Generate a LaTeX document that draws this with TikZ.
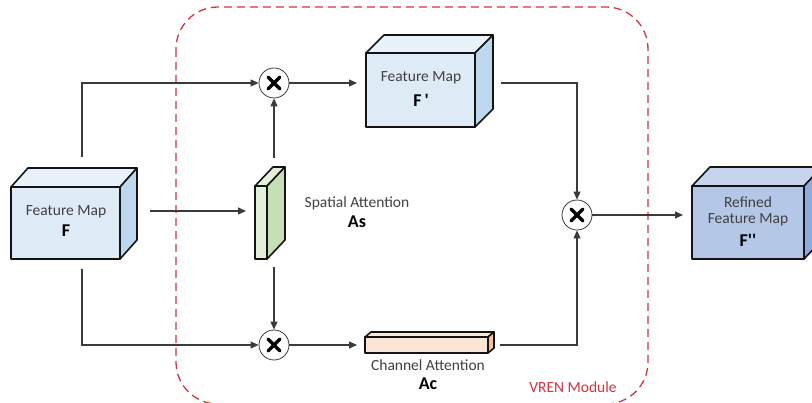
\documentclass[tikz,border=0pt]{standalone}
\usepackage{fontspec}
\setmainfont{Carlito}
\newfontfamily\labfont{Carlito}
\usetikzlibrary{arrows.meta,calc}
\definecolor{linegray}{HTML}{3A3A3A}
\definecolor{textgray}{HTML}{404040}
\definecolor{vrenred}{HTML}{D9303C}
\definecolor{bluefront}{HTML}{DEEBF7}
\definecolor{blueside}{HTML}{BDD7EE}
\definecolor{bluetop}{HTML}{E9F2FB}
\definecolor{dbluefront}{HTML}{B4C7E7}
\definecolor{dblueside}{HTML}{8FAADC}
\definecolor{dbluetop}{HTML}{C6D4EE}
\definecolor{greenfront}{HTML}{E2F0D9}
\definecolor{greenside}{HTML}{C5E0B4}
\definecolor{peachfront}{HTML}{FBE5D6}
\definecolor{peachside}{HTML}{F4C2A0}
\newcommand\cubefaces[5]{%
  \draw[face, fill=#4] (#1.north west) -- ++(#2,#3) -- ($(#1.north east)+(#2,#3)$) -- (#1.north east) -- cycle;
  \draw[face, fill=#5] (#1.north east) -- ++(#2,#3) -- ($(#1.south east)+(#2,#3)$) -- (#1.south east) -- cycle;
}
\newcommand\timesmark[1]{%
  \draw[line width=3.4pt, line cap=round, black] ($(#1)+(-6,-6)$) -- ($(#1)+(6,6)$);
  \draw[line width=3.4pt, line cap=round, black] ($(#1)+(-6,6)$) -- ($(#1)+(6,-6)$);
}
\begin{document}
\begin{tikzpicture}[x=1pt,y=-1pt,
  conn/.style={draw=linegray, line width=1.1pt, -{Triangle[length=8pt,width=7pt]}},
  face/.style={draw=black!92, line width=1.6pt, line join=round, outer sep=0pt, inner sep=0pt},
  txt/.style={font=\labfont\fontsize{15.5}{18}\selectfont, text=textgray, inner sep=0pt},
  boldtxt/.style={font=\labfont\bfseries\fontsize{18}{20}\selectfont, text=black, inner sep=0pt},
  mult/.style={circle, draw=linegray, line width=0.8pt, minimum size=30pt, inner sep=0pt, fill=white},
  vren/.style={draw=vrenred, line width=1.3pt, dash pattern=on 8pt off 5pt, rounded corners=42pt}
]
\clip (0,0) rectangle (812,403);
\useasboundingbox (0,0) rectangle (812,403);

% VREN module frame
\draw[vren] (176,7) rectangle (648,404);
\node[txt, text=vrenred] (vrenlab) at (573,387) {VREN Module};

% Feature map F
\node[face, fill=bluefront, minimum width=109pt, minimum height=72pt] (F) at (65.5,223) {};
\cubefaces{F}{17}{-19}{bluetop}{blueside}
\node[txt] (Flab1) at (66,212) {Feature Map};
\node[boldtxt] (Flab2) at (66,231) {F};

% Spatial attention
\node[face, fill=greenfront, minimum width=12pt, minimum height=73pt] (As) at (261,222.5) {};
\cubefaces{As}{18}{-19}{greenfront}{greenside}
\node[txt] (Aslab1) at (357,203) {Spatial Attention};
\node[boldtxt] (Aslab2) at (357,222) {As};

% Feature map F'
\node[face, fill=bluefront, minimum width=109pt, minimum height=74pt] (Fp) at (420.5,90) {};
\cubefaces{Fp}{18}{-18}{bluetop}{blueside}
\node[txt] (Fplab1) at (421,78) {Feature Map};
\node[boldtxt] (Fplab2) at (421,100) {F\,'};

% Channel attention
\node[face, fill=peachfront, minimum width=123pt, minimum height=16pt] (Ac) at (426.5,345) {};
\cubefaces{Ac}{6}{-5}{peachfront}{peachside}
\node[txt] (Aclab1) at (428,365) {Channel Attention};
\node[boldtxt] (Aclab2) at (428,384) {Ac};

% Refined feature map F''
\node[face, fill=dbluefront, minimum width=112pt, minimum height=73pt] (Fpp) at (748,222.5) {};
\cubefaces{Fpp}{18}{-19}{dbluetop}{dblueside}
\node[txt] (Fpplab1) at (748,202) {Refined};
\node[txt] (Fpplab2) at (748,220) {Feature Map};
\node[boldtxt] (Fpplab3) at (748,240) {F''};

% multipliers
\node[mult] (m1) at (274,83) {};
\node[mult] (m2) at (274,345) {};
\node[mult] (m3) at (577,215) {};
\timesmark{m1}
\timesmark{m2}
\timesmark{m3}

% connector end points
\coordinate (Ftop) at (82,157);
\coordinate (Fbot) at (82,269);
\coordinate (Fout) at (150,211);
\coordinate (Asin) at (246,211);
\coordinate (Astop) at (274,158);
\coordinate (Asbot) at (274,267);
\coordinate (Fpin) at (357,83);
\coordinate (Acin) at (357,345);
\coordinate (Fpout) at (501,83);
\coordinate (Acout) at (500,345);
\coordinate (Fppin) at (683,215);

% connectors
\draw[conn] (Ftop) |- (m1.west);
\draw[conn] (Fbot) |- (m2.west);
\draw[conn] (Fout) -- (Asin);
\draw[conn] (Astop) -- (m1.south);
\draw[conn] (Asbot) -- (m2.north);
\draw[conn] (m1.east) -- (Fpin);
\draw[conn] (m2.east) -- (Acin);
\draw[conn] (Fpout) -| (m3.north);
\draw[conn] (Acout) -| (m3.south);
\draw[conn] (m3.east) -- (Fppin);
\end{tikzpicture}
\end{document}
